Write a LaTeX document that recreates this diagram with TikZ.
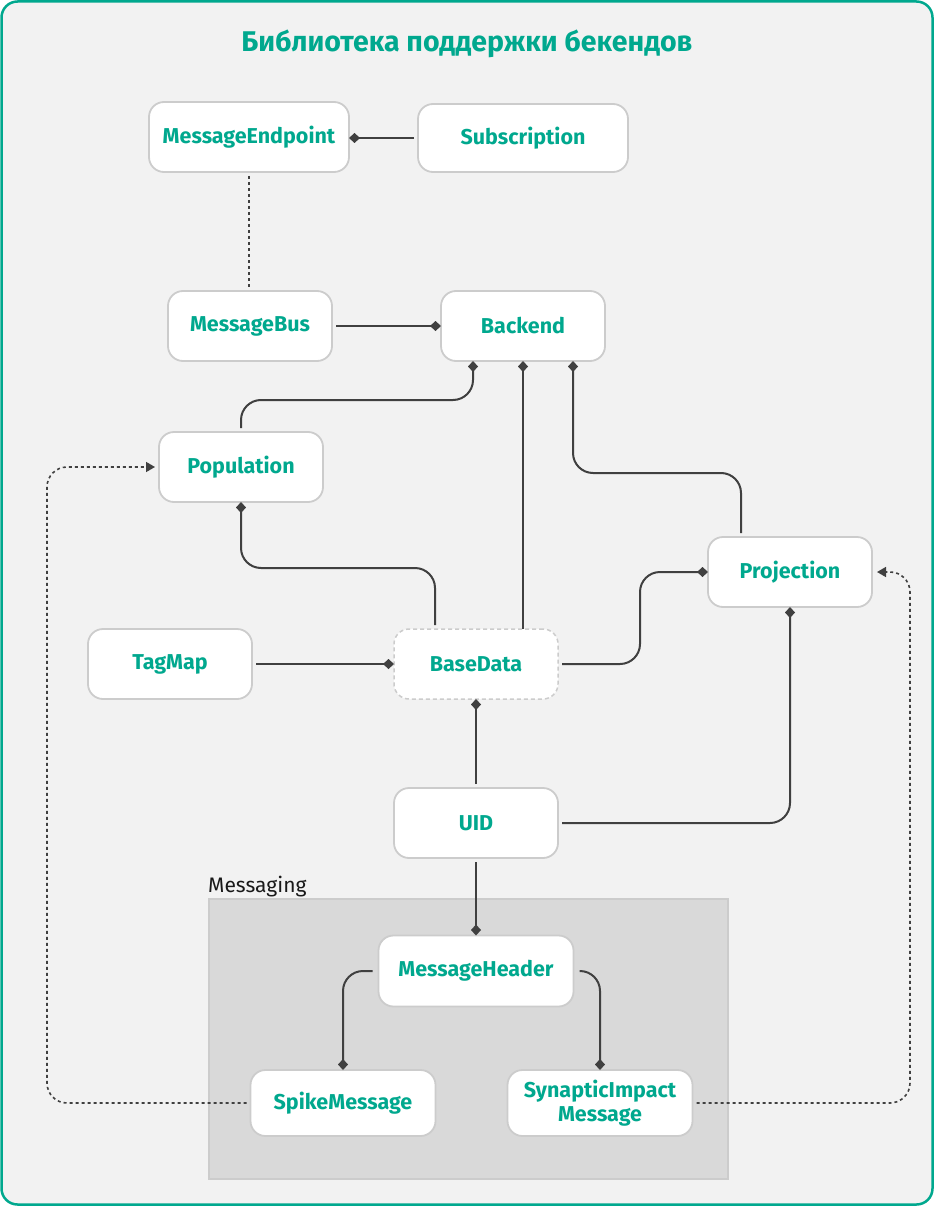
\documentclass[tikz,border=0pt]{standalone}
\usepackage{fontspec}
\setmainfont{Fira Sans}
\usetikzlibrary{arrows.meta,calc}
\definecolor{kgreen}{HTML}{00A88E}
\definecolor{kline}{HTML}{404040}
\definecolor{kbord}{HTML}{CCCCCC}
\definecolor{kbg}{HTML}{F2F2F2}
\definecolor{kgroup}{HTML}{D9D9D9}
\begin{document}
\begin{tikzpicture}[x=1pt,y=-1pt,
  box/.style={draw=kbord, line width=1.8pt, fill=white, rounded corners=15pt, text=kgreen,
    font=\fontsize{21.5}{24}\selectfont\bfseries, align=center, minimum height=70pt,
    minimum width=164pt, inner sep=0pt, outer sep=0pt},
  conn/.style={draw=kline, line width=2pt, rounded corners=20pt},
  dia/.style={conn, -{Diamond[length=11pt,width=10pt]}},
  dotline/.style={draw=kline, line width=1.6pt, dash pattern=on 3pt off 3pt, rounded corners=20pt},
  dotarrow/.style={dotline, -{Triangle[length=9pt,width=10pt]}},
  gap/.style={shorten <=4pt}
]
\useasboundingbox (0,0) rectangle (934,1206);
\draw[draw=kgreen, line width=2.5pt, fill=kbg, rounded corners=16pt] (1.5,1.5) rectangle (932.5,1204.5);
\node[text=kgreen, font=\fontsize{28.5}{32}\selectfont\bfseries] (title) at (467,44) {Библиотека поддержки бекендов};

% group
\node[fill=kgroup, draw=kbord, line width=1.5pt, minimum width=519pt, minimum height=280pt,
  anchor=north west, inner sep=0pt] (grp) at (208,898) {};
\node[anchor=base west, font=\fontsize{21}{24}\selectfont, text=black!90, inner sep=0pt] (grplabel) at (208,892) {Messaging};

% nodes
\node[box, minimum width=200pt] (mep) at (249,137) {MessageEndpoint};
\node[box, minimum width=210pt, minimum height=68pt] (sub) at (523,138) {Subscription};
\node[box] (mbus) at (250,326) {MessageBus};
\node[box] (back) at (523,326) {Backend};
\node[box] (pop) at (241,467) {Population};
\node[box] (proj) at (790,572) {Projection};
\node[box] (tag) at (170,664) {TagMap};
\node[box, line width=1.5pt, dash pattern=on 4pt off 3pt] (base) at (476,664) {BaseData};
\node[box] (uid) at (476,823) {UID};
\node[box, minimum width=195pt, minimum height=71pt] (mh) at (476,971) {MessageHeader};
\node[box, minimum width=185pt, minimum height=66pt] (spike) at (343,1103) {SpikeMessage};
\node[box, minimum width=185pt, minimum height=66pt] (syn) at (600,1103) {SynapticImpact\\Message};

% connectors
\draw[dia, gap] (sub.west) -- (sub.west -| mep.east);
\draw[dotline, shorten <=4pt, shorten >=4pt] (mep.south) -- (mep.south |- mbus.north);
\draw[dia, gap] (mbus.east) -- (back.west);
\draw[dia, gap] (pop.north) -- ++(0,-32) -| ([xshift=-50pt]back.south);
\draw[dia] (base.north -| back.south) -- (back.south);
\draw[dia, gap] ([xshift=-49pt]proj.north) -- ++(0,-64) -| ([xshift=50pt]back.south);
\draw[dia, gap] ([xshift=-41pt]base.north) -- ++(0,-61) -| (pop.south);
\draw[dia, gap] (tag.east) -- (base.west);
\draw[dia, gap] (base.east) -- ++(82,0) |- (proj.west);
\draw[dia, gap] (uid.north) -- (base.south);
\draw[dia, gap] (uid.east) -| (proj.south);
\draw[dia, gap] (uid.south) -- (mh.north);
\draw[dia] ([xshift=-6pt]mh.west) -| (spike.north);
\draw[dia] ([xshift=6pt]mh.east) -| (syn.north);
\draw[dotarrow] ([xshift=-4pt]spike.west) -| ([xshift=-112pt]pop.west) -- ([xshift=-4pt]pop.west);
\draw[dotarrow] ([xshift=4pt]syn.east) -| ([xshift=38pt]proj.east) -- ([xshift=5pt]proj.east);
\end{tikzpicture}
\end{document}
